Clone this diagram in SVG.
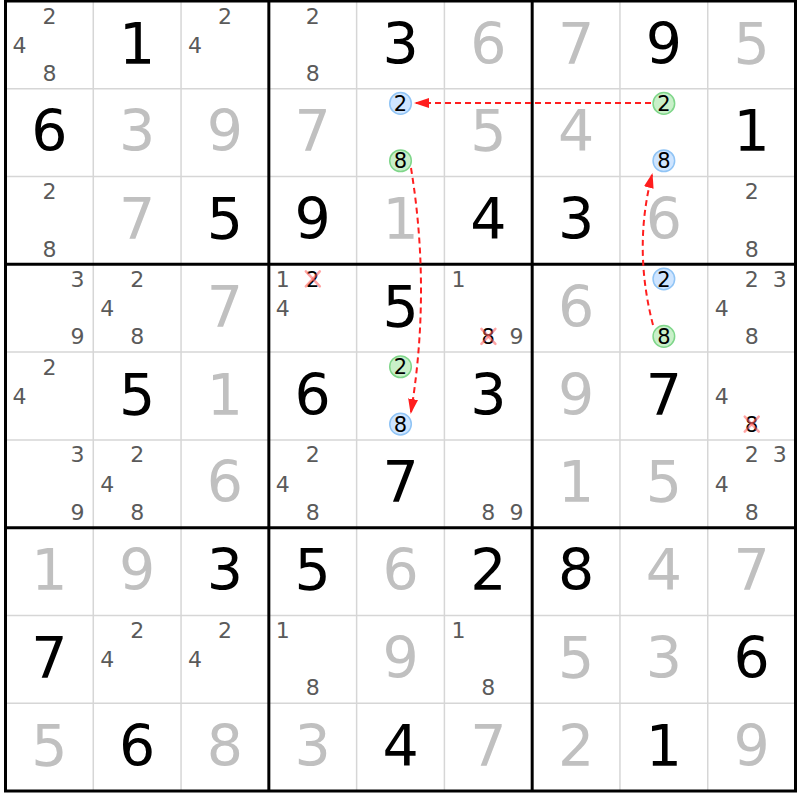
<svg xmlns="http://www.w3.org/2000/svg" width="800" height="800" viewBox="0 0 800 800">
<style>
text{font-family:"DejaVu Sans","Liberation Sans",sans-serif;text-anchor:middle}
.g{font-size:57px;fill:#000}
.s{font-size:57px;fill:#c0c0c0}
.c{font-size:22px;fill:#5a5a5a}
.k{font-size:21px;fill:#000}
.cb{fill:#cfe5ff;stroke:#90c4f5;stroke-width:1.5}
.cg{fill:#c9f0c9;stroke:#7fd68a;stroke-width:1.5}
.xx{stroke:#ff5a5a;stroke-opacity:0.55;stroke-width:2.5;stroke-linecap:round}
.thin{stroke:#d6d6d6;stroke-width:1.5}
.thick{stroke:#000;stroke-width:3;fill:none}
.link{fill:none;stroke:#ff1e1e;stroke-width:2;stroke-dasharray:6 4}
</style>
<defs>
<marker id="ah" markerUnits="userSpaceOnUse" viewBox="0 0 15 10" markerWidth="15" markerHeight="10" refX="13" refY="5" orient="auto">
<path d="M0,0 L15,5 L0,10 z" fill="#ff1e1e"/>
</marker>
</defs>
<rect x="0" y="0" width="800" height="800" fill="#fff"/>
<g id="grid">
<g class="thin">
<line x1="93.28" y1="1" x2="93.28" y2="791"/>
<line x1="181.06" y1="1" x2="181.06" y2="791"/>
<line x1="356.62" y1="1" x2="356.62" y2="791"/>
<line x1="444.4" y1="1" x2="444.4" y2="791"/>
<line x1="619.96" y1="1" x2="619.96" y2="791"/>
<line x1="707.74" y1="1" x2="707.74" y2="791"/>
<line x1="5.5" y1="88.78" x2="795.5" y2="88.78"/>
<line x1="5.5" y1="176.56" x2="795.5" y2="176.56"/>
<line x1="5.5" y1="352.12" x2="795.5" y2="352.12"/>
<line x1="5.5" y1="439.9" x2="795.5" y2="439.9"/>
<line x1="5.5" y1="615.46" x2="795.5" y2="615.46"/>
<line x1="5.5" y1="703.24" x2="795.5" y2="703.24"/>
</g>
<g class="thick">
<line x1="268.84" y1="1" x2="268.84" y2="791"/>
<line x1="532.18" y1="1" x2="532.18" y2="791"/>
<line x1="5.5" y1="264.34" x2="795.5" y2="264.34"/>
<line x1="5.5" y1="527.68" x2="795.5" y2="527.68"/>
<rect x="5.5" y="1" width="790" height="790"/>
</g>
</g>

<!-- Row 0 -->
<g id="r0c0" transform="translate(5.5,1)"><text class="c" x="43.9" y="22.6">2</text><text class="c" x="14" y="51.9">4</text><text class="c" x="43.9" y="80">8</text></g>
<g id="r0c1" transform="translate(93.28,1)"><text class="g" x="43.9" y="62.5">1</text></g>
<g id="r0c2" transform="translate(181.06,1)"><text class="c" x="43.9" y="22.6">2</text><text class="c" x="14" y="51.9">4</text></g>
<g id="r0c3" transform="translate(268.84,1)"><text class="c" x="43.9" y="22.6">2</text><text class="c" x="43.9" y="80">8</text></g>
<g id="r0c4" transform="translate(356.62,1)"><text class="g" x="43.9" y="62.5">3</text></g>
<g id="r0c5" transform="translate(444.4,1)"><text class="s" x="43.9" y="62.5">6</text></g>
<g id="r0c6" transform="translate(532.18,1)"><text class="s" x="43.9" y="62.5">7</text></g>
<g id="r0c7" transform="translate(619.96,1)"><text class="g" x="43.9" y="62.5">9</text></g>
<g id="r0c8" transform="translate(707.74,1)"><text class="s" x="43.9" y="62.5">5</text></g>

<!-- Row 1 -->
<g id="r1c0" transform="translate(5.5,88.78)"><text class="g" x="43.9" y="62.5">6</text></g>
<g id="r1c1" transform="translate(93.28,88.78)"><text class="s" x="43.9" y="62.5">3</text></g>
<g id="r1c2" transform="translate(181.06,88.78)"><text class="s" x="43.9" y="62.5">9</text></g>
<g id="r1c3" transform="translate(268.84,88.78)"><text class="s" x="43.9" y="62.5">7</text></g>
<g id="r1c4" transform="translate(356.62,88.78)"><circle class="cb" cx="43.9" cy="14.6" r="10.8"/><text class="k" x="43.9" y="22.3">2</text><circle class="cg" cx="43.9" cy="72" r="10.8"/><text class="k" x="43.9" y="79.7">8</text></g>
<g id="r1c5" transform="translate(444.4,88.78)"><text class="s" x="43.9" y="62.5">5</text></g>
<g id="r1c6" transform="translate(532.18,88.78)"><text class="s" x="43.9" y="62.5">4</text></g>
<g id="r1c7" transform="translate(619.96,88.78)"><circle class="cg" cx="43.9" cy="14.6" r="10.8"/><text class="k" x="43.9" y="22.3">2</text><circle class="cb" cx="43.9" cy="72" r="10.8"/><text class="k" x="43.9" y="79.7">8</text></g>
<g id="r1c8" transform="translate(707.74,88.78)"><text class="g" x="43.9" y="62.5">1</text></g>

<!-- Row 2 -->
<g id="r2c0" transform="translate(5.5,176.56)"><text class="c" x="43.9" y="22.6">2</text><text class="c" x="43.9" y="80">8</text></g>
<g id="r2c1" transform="translate(93.28,176.56)"><text class="s" x="43.9" y="62.5">7</text></g>
<g id="r2c2" transform="translate(181.06,176.56)"><text class="g" x="43.9" y="62.5">5</text></g>
<g id="r2c3" transform="translate(268.84,176.56)"><text class="g" x="43.9" y="62.5">9</text></g>
<g id="r2c4" transform="translate(356.62,176.56)"><text class="s" x="43.9" y="62.5">1</text></g>
<g id="r2c5" transform="translate(444.4,176.56)"><text class="g" x="43.9" y="62.5">4</text></g>
<g id="r2c6" transform="translate(532.18,176.56)"><text class="g" x="43.9" y="62.5">3</text></g>
<g id="r2c7" transform="translate(619.96,176.56)"><text class="s" x="43.9" y="62.5">6</text></g>
<g id="r2c8" transform="translate(707.74,176.56)"><text class="c" x="43.9" y="22.6">2</text><text class="c" x="43.9" y="80">8</text></g>

<!-- Row 3 -->
<g id="r3c0" transform="translate(5.5,264.34)"><text class="c" x="72" y="22.6">3</text><text class="c" x="72" y="80">9</text></g>
<g id="r3c1" transform="translate(93.28,264.34)"><text class="c" x="43.9" y="22.6">2</text><text class="c" x="14" y="51.9">4</text><text class="c" x="43.9" y="80">8</text></g>
<g id="r3c2" transform="translate(181.06,264.34)"><text class="s" x="43.9" y="62.5">7</text></g>
<g id="r3c3" transform="translate(268.84,264.34)"><text class="c" x="14" y="22.6">1</text><text class="k" x="43.9" y="22.3">2</text><line class="xx" x1="37" y1="7" x2="51" y2="22"/><line class="xx" x1="51" y1="7" x2="37" y2="22"/><text class="c" x="14" y="51.9">4</text></g>
<g id="r3c4" transform="translate(356.62,264.34)"><text class="g" x="43.9" y="62.5">5</text></g>
<g id="r3c5" transform="translate(444.4,264.34)"><text class="c" x="14" y="22.6">1</text><text class="k" x="43.9" y="79.7">8</text><line class="xx" x1="37" y1="64.5" x2="51" y2="79.5"/><line class="xx" x1="51" y1="64.5" x2="37" y2="79.5"/><text class="c" x="72" y="80">9</text></g>
<g id="r3c6" transform="translate(532.18,264.34)"><text class="s" x="43.9" y="62.5">6</text></g>
<g id="r3c7" transform="translate(619.96,264.34)"><circle class="cb" cx="43.9" cy="14.6" r="10.8"/><text class="k" x="43.9" y="22.3">2</text><circle class="cg" cx="43.9" cy="72" r="10.8"/><text class="k" x="43.9" y="79.7">8</text></g>
<g id="r3c8" transform="translate(707.74,264.34)"><text class="c" x="43.9" y="22.6">2</text><text class="c" x="72" y="22.6">3</text><text class="c" x="14" y="51.9">4</text><text class="c" x="43.9" y="80">8</text></g>

<!-- Row 4 -->
<g id="r4c0" transform="translate(5.5,352.12)"><text class="c" x="43.9" y="22.6">2</text><text class="c" x="14" y="51.9">4</text></g>
<g id="r4c1" transform="translate(93.28,352.12)"><text class="g" x="43.9" y="62.5">5</text></g>
<g id="r4c2" transform="translate(181.06,352.12)"><text class="s" x="43.9" y="62.5">1</text></g>
<g id="r4c3" transform="translate(268.84,352.12)"><text class="g" x="43.9" y="62.5">6</text></g>
<g id="r4c4" transform="translate(356.62,352.12)"><circle class="cg" cx="43.9" cy="14.6" r="10.8"/><text class="k" x="43.9" y="22.3">2</text><circle class="cb" cx="43.9" cy="72" r="10.8"/><text class="k" x="43.9" y="79.7">8</text></g>
<g id="r4c5" transform="translate(444.4,352.12)"><text class="g" x="43.9" y="62.5">3</text></g>
<g id="r4c6" transform="translate(532.18,352.12)"><text class="s" x="43.9" y="62.5">9</text></g>
<g id="r4c7" transform="translate(619.96,352.12)"><text class="g" x="43.9" y="62.5">7</text></g>
<g id="r4c8" transform="translate(707.74,352.12)"><text class="c" x="14" y="51.9">4</text><text class="k" x="43.9" y="79.7">8</text><line class="xx" x1="37" y1="64.5" x2="51" y2="79.5"/><line class="xx" x1="51" y1="64.5" x2="37" y2="79.5"/></g>

<!-- Row 5 -->
<g id="r5c0" transform="translate(5.5,439.9)"><text class="c" x="72" y="22.6">3</text><text class="c" x="72" y="80">9</text></g>
<g id="r5c1" transform="translate(93.28,439.9)"><text class="c" x="43.9" y="22.6">2</text><text class="c" x="14" y="51.9">4</text><text class="c" x="43.9" y="80">8</text></g>
<g id="r5c2" transform="translate(181.06,439.9)"><text class="s" x="43.9" y="62.5">6</text></g>
<g id="r5c3" transform="translate(268.84,439.9)"><text class="c" x="43.9" y="22.6">2</text><text class="c" x="14" y="51.9">4</text><text class="c" x="43.9" y="80">8</text></g>
<g id="r5c4" transform="translate(356.62,439.9)"><text class="g" x="43.9" y="62.5">7</text></g>
<g id="r5c5" transform="translate(444.4,439.9)"><text class="c" x="43.9" y="80">8</text><text class="c" x="72" y="80">9</text></g>
<g id="r5c6" transform="translate(532.18,439.9)"><text class="s" x="43.9" y="62.5">1</text></g>
<g id="r5c7" transform="translate(619.96,439.9)"><text class="s" x="43.9" y="62.5">5</text></g>
<g id="r5c8" transform="translate(707.74,439.9)"><text class="c" x="43.9" y="22.6">2</text><text class="c" x="72" y="22.6">3</text><text class="c" x="14" y="51.9">4</text><text class="c" x="43.9" y="80">8</text></g>

<!-- Row 6 -->
<g id="r6c0" transform="translate(5.5,527.68)"><text class="s" x="43.9" y="62.5">1</text></g>
<g id="r6c1" transform="translate(93.28,527.68)"><text class="s" x="43.9" y="62.5">9</text></g>
<g id="r6c2" transform="translate(181.06,527.68)"><text class="g" x="43.9" y="62.5">3</text></g>
<g id="r6c3" transform="translate(268.84,527.68)"><text class="g" x="43.9" y="62.5">5</text></g>
<g id="r6c4" transform="translate(356.62,527.68)"><text class="s" x="43.9" y="62.5">6</text></g>
<g id="r6c5" transform="translate(444.4,527.68)"><text class="g" x="43.9" y="62.5">2</text></g>
<g id="r6c6" transform="translate(532.18,527.68)"><text class="g" x="43.9" y="62.5">8</text></g>
<g id="r6c7" transform="translate(619.96,527.68)"><text class="s" x="43.9" y="62.5">4</text></g>
<g id="r6c8" transform="translate(707.74,527.68)"><text class="s" x="43.9" y="62.5">7</text></g>

<!-- Row 7 -->
<g id="r7c0" transform="translate(5.5,615.46)"><text class="g" x="43.9" y="62.5">7</text></g>
<g id="r7c1" transform="translate(93.28,615.46)"><text class="c" x="43.9" y="22.6">2</text><text class="c" x="14" y="51.9">4</text></g>
<g id="r7c2" transform="translate(181.06,615.46)"><text class="c" x="43.9" y="22.6">2</text><text class="c" x="14" y="51.9">4</text></g>
<g id="r7c3" transform="translate(268.84,615.46)"><text class="c" x="14" y="22.6">1</text><text class="c" x="43.9" y="80">8</text></g>
<g id="r7c4" transform="translate(356.62,615.46)"><text class="s" x="43.9" y="62.5">9</text></g>
<g id="r7c5" transform="translate(444.4,615.46)"><text class="c" x="14" y="22.6">1</text><text class="c" x="43.9" y="80">8</text></g>
<g id="r7c6" transform="translate(532.18,615.46)"><text class="s" x="43.9" y="62.5">5</text></g>
<g id="r7c7" transform="translate(619.96,615.46)"><text class="s" x="43.9" y="62.5">3</text></g>
<g id="r7c8" transform="translate(707.74,615.46)"><text class="g" x="43.9" y="62.5">6</text></g>

<!-- Row 8 -->
<g id="r8c0" transform="translate(5.5,703.24)"><text class="s" x="43.9" y="62.5">5</text></g>
<g id="r8c1" transform="translate(93.28,703.24)"><text class="g" x="43.9" y="62.5">6</text></g>
<g id="r8c2" transform="translate(181.06,703.24)"><text class="s" x="43.9" y="62.5">8</text></g>
<g id="r8c3" transform="translate(268.84,703.24)"><text class="s" x="43.9" y="62.5">3</text></g>
<g id="r8c4" transform="translate(356.62,703.24)"><text class="g" x="43.9" y="62.5">4</text></g>
<g id="r8c5" transform="translate(444.4,703.24)"><text class="s" x="43.9" y="62.5">7</text></g>
<g id="r8c6" transform="translate(532.18,703.24)"><text class="s" x="43.9" y="62.5">2</text></g>
<g id="r8c7" transform="translate(619.96,703.24)"><text class="g" x="43.9" y="62.5">1</text></g>
<g id="r8c8" transform="translate(707.74,703.24)"><text class="s" x="43.9" y="62.5">9</text></g>

<g id="connectors">
<path class="link" d="M651,103 L416,103" marker-end="url(#ah)"/>
<path class="link" d="M411,168 Q431,290 411,412" marker-end="url(#ah)"/>
<path class="link" d="M653,325 Q633,248 652,175" marker-end="url(#ah)"/>
</g>
</svg>
